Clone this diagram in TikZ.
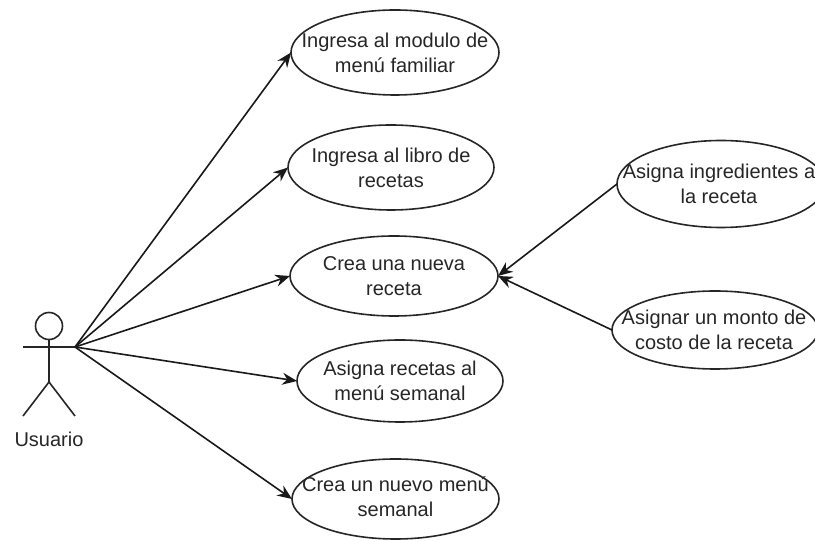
\documentclass[tikz,border=0pt]{standalone}
\usepackage{fontspec}
\setmainfont{Liberation Sans}
\usetikzlibrary{shapes.geometric,arrows.meta}
\tikzset{
 px/.style={x=0.75pt,y=-0.75pt},
 uc/.style 2 args={draw=black!85,line width=1.2pt,ellipse,minimum width=#1*0.75pt,minimum height=#2*0.75pt,inner sep=0pt,outer sep=0pt},
 lbl/.style={inner sep=0pt,align=center,font=\fontsize{15pt}{18.6pt}\selectfont,text=black!85},
 link/.style={draw=black!90,line width=1.2pt,-{Stealth[length=11pt,width=9pt]}}
}
\begin{document}
\begin{tikzpicture}[px]
\useasboundingbox (0,0) rectangle (815,541);
\node[uc={208}{85}] (a) at (395,52.5) {};
\node[lbl] (at) at (a) {Ingresa al modulo de\\menú familiar};
\node[uc={206}{85}] (b) at (391,167.5) {};
\node[lbl] (bt) at (b) {Ingresa al libro de\\recetas};
\node[uc={208}{80}] (c) at (394,276) {};
\node[lbl] (ct) at (390+4,276) {Crea una nueva\\receta};
\node[uc={206}{82}] (d) at (400,381) {};
\node[lbl] (dt) at (d) {Asigna recetas al\\menú semanal};
\node[uc={207}{80}] (e) at (395.5,499) {};
\node[lbl] (et) at (395.5,497) {Crea un nuevo menú\\semanal};
\node[uc={208}{87}] (f) at (721,184) {};
\node[lbl] (ft) at (719,184) {Asigna ingredientes a\\la receta};
\node[uc={206}{78}] (g) at (715,330) {};
\node[lbl] (gt) at (714,330) {Asignar un monto de\\costo de la receta};
\coordinate (u) at (75,347);
\draw[line width=1.2pt,draw=black!85] (49,326) circle (13.5);
\coordinate (head) at (49,339.5);
\coordinate (hip) at (49,382);
\coordinate (armL) at (23,347);
\coordinate (legL) at (23,416);
\coordinate (legR) at (75,416);
\draw[line width=1.2pt,draw=black!85] (head) -- (hip) (armL) -- (u) (legL) -- (hip) -- (legR);
\node[lbl] (ul) at (49,439) {Usuario};
\draw[link] (u) -- (a.west);
\draw[link] (u) -- (b.west);
\draw[link] (u) -- (c.west);
\draw[link] (u) -- (d.west);
\draw[link] (u) -- (e.west);
\draw[link] (f.west) -- (c.east);
\draw[link] (g.west) -- (c.east);
\end{tikzpicture}
\end{document}
